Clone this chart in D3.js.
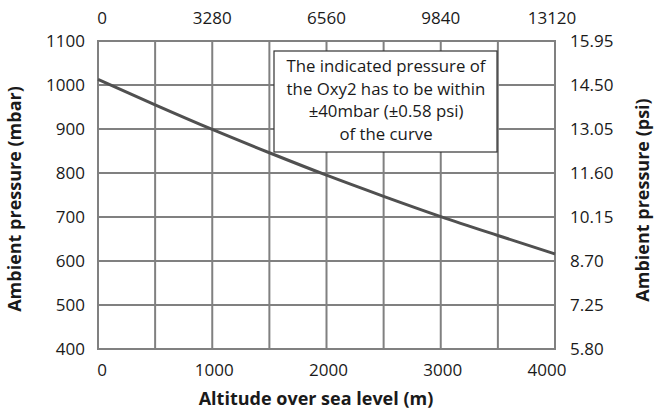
<!DOCTYPE html>
<html>
<head>
<meta charset="utf-8">
<script src="https://cdn.jsdelivr.net/npm/d3@7"></script>
<style>
  body { margin: 0; background: #fff; }
  svg text { font-family: "Open Sans", sans-serif; fill: #1a1a1a; }
</style>
</head>
<body>
<svg id="chart" width="654" height="412"></svg>
<script>
// altitude (m) vs ambient pressure (mbar)
const altitudes = [0, 500, 1000, 1500, 2000, 2500, 3000, 3500, 4000];
const pressures = [1013, 955, 899, 846, 795, 747, 701, 658, 616];

const bottomTicks = [0, 1000, 2000, 3000, 4000];
const topTickLabels = ["0", "3280", "6560", "9840", "13120"];
const leftTicks = [400, 500, 600, 700, 800, 900, 1000, 1100];
const rightTickLabels = ["5.80", "7.25", "8.70", "10.15", "11.60", "13.05", "14.50", "15.95"];
const gridX = d3.range(0, 4001, 500);
const noteLines = ["The indicated pressure of", "the Oxy2 has to be within", "\u00b140mbar (\u00b10.58 psi)", "of the curve"];

const svg = d3.select("#chart");
const plotL = 98, plotR = 555, plotT = 41, plotB = 349;

const x = d3.scaleLinear().domain([0, 4000]).range([plotL, plotR]);
const y = d3.scaleLinear().domain([400, 1100]).range([plotB, plotT]);

// grid
const grid = svg.append("g").attr("stroke", "#808080").attr("stroke-width", 2);
grid.selectAll(".v").data(gridX).enter().append("line")
  .attr("x1", d => x(d)).attr("x2", d => x(d))
  .attr("y1", plotT).attr("y2", plotB);
grid.selectAll(".h").data(leftTicks).enter().append("line")
  .attr("x1", plotL - 1).attr("x2", plotR + 1)
  .attr("y1", d => y(d)).attr("y2", d => y(d));

// curve
const line = d3.line().x((d, i) => x(altitudes[i])).y(d => y(d)).curve(d3.curveMonotoneX);
svg.append("path").datum(pressures)
  .attr("d", line)
  .attr("fill", "none")
  .attr("stroke", "#505050")
  .attr("stroke-width", 3);

// tick labels
const fs = 17;
svg.append("g").selectAll("text").data(bottomTicks).enter().append("text")
  .attr("x", (d, i) => x(d) + (i === 0 ? 4 : i === bottomTicks.length - 1 ? -8 : 2))
  .attr("y", 376)
  .attr("text-anchor", "middle")
  .attr("font-size", fs)
  .text(d => d);

svg.append("g").selectAll("text").data(topTickLabels).enter().append("text")
  .attr("x", (d, i) => x(bottomTicks[i]) + (i === 0 ? 4 : i === topTickLabels.length - 1 ? -3 : 0))
  .attr("y", 24)
  .attr("text-anchor", "middle")
  .attr("font-size", fs)
  .text(d => d);

svg.append("g").selectAll("text").data(leftTicks).enter().append("text")
  .attr("x", 85)
  .attr("y", d => y(d))
  .attr("dy", "0.35em")
  .attr("text-anchor", "end")
  .attr("font-size", fs)
  .text(d => d);

svg.append("g").selectAll("text").data(rightTickLabels).enter().append("text")
  .attr("x", 570)
  .attr("y", (d, i) => y(leftTicks[i]))
  .attr("dy", "0.35em")
  .attr("text-anchor", "start")
  .attr("font-size", fs)
  .text(d => d);

// axis titles
svg.append("text")
  .attr("x", 316).attr("y", 405)
  .attr("text-anchor", "middle")
  .attr("font-size", 18).attr("font-weight", "bold")
  .text("Altitude over sea level (m)");

svg.append("text")
  .attr("transform", "translate(21,199) rotate(-90)")
  .attr("text-anchor", "middle")
  .attr("font-size", 18).attr("font-weight", "bold")
  .text("Ambient pressure (mbar)");

svg.append("text")
  .attr("transform", "translate(649,200) rotate(-90)")
  .attr("text-anchor", "middle")
  .attr("font-size", 18).attr("font-weight", "bold")
  .text("Ambient pressure (psi)");

// note box
svg.append("rect")
  .attr("x", 274).attr("y", 51)
  .attr("width", 223).attr("height", 101)
  .attr("fill", "#fff")
  .attr("stroke", "#333")
  .attr("stroke-width", 1.2);

svg.append("g").selectAll("text").data(noteLines).enter().append("text")
  .attr("x", 386)
  .attr("y", (d, i) => 72 + i * 22.6)
  .attr("text-anchor", "middle")
  .attr("font-size", 16.8)
  .text(d => d);
</script>
</body>
</html>
